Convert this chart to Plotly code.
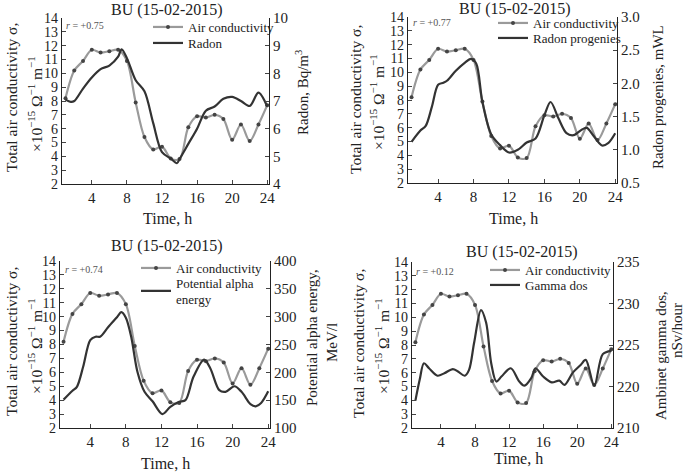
import plotly.graph_objects as go

W, H = 685, 473
FONT = "Liberation Serif, Times New Roman, serif"

# ---- data -----------------------------------------------------------------------

hours = list(range(1, 25))
air_cond = [8.2, 10.2, 10.9, 11.7, 11.5, 11.6, 11.7, 10.9, 7.9, 5.4, 4.5, 4.7,
            3.85, 3.8, 6.1, 6.9, 6.8, 7.0, 6.7, 5.2, 6.3, 5.1, 6.3, 7.7]

radon_t = [1, 1.6, 2, 3, 4, 5, 6, 7, 7.4, 8, 9, 10, 11, 12, 13, 13.7, 14,
           15, 16, 17, 18, 19, 20, 21, 22, 23, 24]
radon = [7.05, 6.97, 7.0, 7.45, 7.85, 8.15, 8.28, 8.6, 8.87, 8.55, 7.75, 7.35,
         6.2, 5.15, 4.92, 4.75, 4.9, 5.45, 6.0, 6.65, 6.8, 7.08, 7.15, 7.0,
         6.82, 7.3, 6.8]

prog_t = [1, 2, 2.6, 3.3, 4, 4.6, 5, 6, 7, 7.7, 8.3, 9, 10, 11, 12, 13, 14,
          15, 16, 16.7, 17.6, 18.5, 19.3, 20.3, 20.8, 21.5, 22.5, 23.2, 24]
progenies = [1.12, 1.29, 1.36, 1.65, 1.98, 2.01, 2.04, 2.19, 2.31, 2.37, 2.3,
             1.72, 1.23, 1.07, 0.96, 1.0, 1.11, 1.17, 1.52, 1.72, 1.47, 1.25,
             1.22, 1.31, 1.33, 1.22, 1.065, 1.1, 1.25]

alpha_t = [1, 2, 2.5, 3.2, 4, 4.6, 5.1, 6, 7, 7.5, 8, 8.6, 9.3, 10.1, 11,
           12.1, 13, 14, 14.7, 15.6, 16.8, 17.5, 18.5, 19.2, 20.2, 21, 22,
           22.6, 23.2, 24]
alpha_energy = [151, 167, 174, 210, 258, 264, 264, 281, 299, 308, 298, 264,
                201, 165, 148, 125, 138, 147, 150, 192, 223, 207, 168, 165,
                175, 165, 143, 139, 145, 166]

gamma_t = [1, 1.5, 2, 2.6, 3.6, 4.4, 5.4, 6, 6.8, 7.3, 7.9, 8.7, 9.3, 9.9,
           10.5, 11.1, 12.2, 13.2, 13.8, 14.6, 15.1, 16, 17, 17.9, 18.5, 19.5,
           20.4, 21, 22, 23, 24]
gamma_dos = [218.3, 220.8, 222.8, 222.2, 221.3, 221.6, 222.1, 221.8, 221.3,
             222.0, 225.3, 229.2, 227.7, 222.8, 220.6, 221.2, 222.2, 220.6,
             220.1, 221.0, 222.2, 221.2, 220.5, 220.7, 220.2, 221.7, 222.6,
             223.2, 220.1, 223.9, 224.3]

r_values = ["+0.75", "+0.77", "+0.74", "+0.12"]


def px(x):
    return x / W


def py(y):
    return 1 - y / H


# ---- panels: boxes and text spots in pixels ----------------------------------------

panels = [
    dict(box=(62, 269, 18, 184), t=radon_t, v=radon, name="Radon",
         rng=[4, 10], dtick=1, tickvals=None, ticktext=None, fmt=None,
         leg=((148, 27), (148, 43)), rtext=(64, 25), title=(167, 10), xtitle=(167, 218),
         ltitle=((11, 98), (35, 104)),
         rtitle=[("Radon, Bq/m<sup>3</sup>", 302, 93)]),
    dict(box=(408, 617, 17, 183), t=prog_t, v=progenies, name="Radon progenies",
         rng=[0.5, 3.0], dtick=0.5, tickvals=None, ticktext=None, fmt=".1f",
         leg=((493, 23), (493, 38)), rtext=(411, 23), title=(515, 9), xtitle=(513, 218),
         ltitle=((356, 100), (377, 102)),
         rtitle=[("Radon progenies, mWL", 658, 97)]),
    dict(box=(60, 270, 261, 428), t=alpha_t, v=alpha_energy,
         name="Potential alpha<br>energy",
         rng=[100, 400], dtick=50, tickvals=None, ticktext=None, fmt=None,
         leg=((136, 268), (136, 291)), rtext=(63, 269), title=(167, 246), xtitle=(165, 463),
         ltitle=((11, 342), (35, 346)),
         rtitle=[("Potential alpha energy,", 312, 338), ("MeV/l", 332, 343)]),
    dict(box=(412, 613, 262, 428), t=gamma_t, v=gamma_dos, name="Gamma dos",
         rng=[215, 235], dtick=None, tickvals=[215, 220, 225, 230, 235],
         ticktext=["210", "220", "225", "230", "235"], fmt=None,
         leg=((485, 270), (485, 285)), rtext=(414, 271), title=(522, 252), xtitle=(518, 458),
         ltitle=((358, 344), (382, 346)),
         rtitle=[("Ambinet gamma dos,", 661, 356), ("nSv/hour", 677, 331)]),
]

fig = go.Figure()
layout = dict(width=W, height=H, margin=dict(l=0, r=0, t=0, b=0, autoexpand=False),
              paper_bgcolor="white", plot_bgcolor="white", showlegend=True,
              font=dict(family=FONT, color="#222"), annotations=[])

for i, p in enumerate(panels):
    xa = f"x{i + 1}" if i else "x"
    yl_idx, yr_idx = 2 * i + 1, 2 * i + 2
    yl = f"y{yl_idx}" if yl_idx > 1 else "y"
    yr = f"y{yr_idx}"
    leg_a = f"legend{2 * i + 1}" if i else "legend"
    leg_b = f"legend{2 * i + 2}"
    x0, x1, yt, yb = p["box"]

    fig.add_trace(go.Scatter(
        x=hours, y=air_cond, xaxis=xa, yaxis=yl, name="Air conductivity",
        mode="lines+markers",
        line=dict(color="#9a9a9a", width=2.2, shape="spline", smoothing=0.9),
        marker=dict(size=4, color="#444"), legend=leg_a, showlegend=True,
    ))
    fig.add_trace(go.Scatter(
        x=p["t"], y=p["v"], xaxis=xa, yaxis=yr, name=p["name"],
        mode="lines", line=dict(color="#333", width=2.2, shape="spline", smoothing=0.9),
        legend=leg_b, showlegend=True,
    ))

    xkey = f"xaxis{i + 1}" if i else "xaxis"
    ylkey = f"yaxis{yl_idx}" if yl_idx > 1 else "yaxis"
    yrkey = f"yaxis{yr_idx}"
    layout[xkey] = dict(domain=[px(x0), px(x1)], anchor=yl, range=[0.6, 24.2],
                        tickvals=[4, 8, 12, 16, 20, 24], ticks="inside", ticklen=4,
                        showline=True, linecolor="#222", linewidth=1.2,
                        showgrid=False, zeroline=False,
                        tickfont=dict(size=15, family=FONT))
    layout[ylkey] = dict(domain=[py(yb), py(yt)], anchor=xa, range=[2, 14], dtick=1,
                         ticks="inside", ticklen=4, showline=True, linecolor="#222",
                         linewidth=1.2, showgrid=False, zeroline=False,
                         tickfont=dict(size=14, family=FONT))
    right = dict(overlaying=yl, anchor=xa, side="right", range=p["rng"],
                 ticks="inside", ticklen=4, showline=True, linecolor="#222",
                 linewidth=1.2, showgrid=False, zeroline=False,
                 tickfont=dict(size=15, family=FONT))
    if p["tickvals"]:
        right.update(tickvals=p["tickvals"], ticktext=p["ticktext"])
    else:
        right.update(dtick=p["dtick"])
    if p["fmt"]:
        right["tickformat"] = p["fmt"]
    layout[yrkey] = right

    # one legend per entry so each sits where the reference has it
    for key, (lx, ly) in zip((leg_a, leg_b), p["leg"]):
        layout[key] = dict(x=px(lx), y=py(ly), xanchor="left", yanchor="middle",
                           bgcolor="rgba(0,0,0,0)", font=dict(size=13, family=FONT),
                           itemwidth=30, tracegroupgap=0, borderwidth=0, visible=True)

    ann = layout["annotations"]
    tx, ty = p["title"]
    ann.append(dict(x=px(tx), y=py(ty), xref="paper", yref="paper", text="BU (15-02-2015)",
                    showarrow=False, font=dict(size=16), xanchor="center", yanchor="middle"))
    tx, ty = p["xtitle"]
    ann.append(dict(x=px(tx), y=py(ty), xref="paper", yref="paper", text="Time, h",
                    showarrow=False, font=dict(size=16), xanchor="center", yanchor="middle"))
    rx, ry = p["rtext"]
    ann.append(dict(x=px(rx), y=py(ry), xref="paper", yref="paper",
                    text=f"<i>r</i> = {r_values[i]}", showarrow=False,
                    font=dict(size=10, color="#555"), xanchor="left", yanchor="middle"))
    (ax1, ay1), (ax2, ay2) = p["ltitle"]
    ann.append(dict(x=px(ax1), y=py(ay1), xref="paper", yref="paper",
                    text="Total air conductivity σ,", textangle=-90, showarrow=False,
                    font=dict(size=15.5), xanchor="center", yanchor="middle"))
    ann.append(dict(x=px(ax2), y=py(ay2), xref="paper", yref="paper",
                    text="×10<sup>−15</sup> Ω<sup>−1</sup> m<sup>−1</sup>", textangle=-90,
                    showarrow=False, font=dict(size=15.5), xanchor="center", yanchor="middle"))
    for txt, rx, ry in p["rtitle"]:
        ann.append(dict(x=px(rx), y=py(ry), xref="paper", yref="paper", text=txt,
                        textangle=-90, showarrow=False, font=dict(size=15),
                        xanchor="center", yanchor="middle"))

fig.update_layout(**layout)
# the page's default body margin would push the whole figure 8px right and down
fig.write_html("out.html", config={"displayModeBar": False},
               post_script="document.body.style.margin = '0';")
